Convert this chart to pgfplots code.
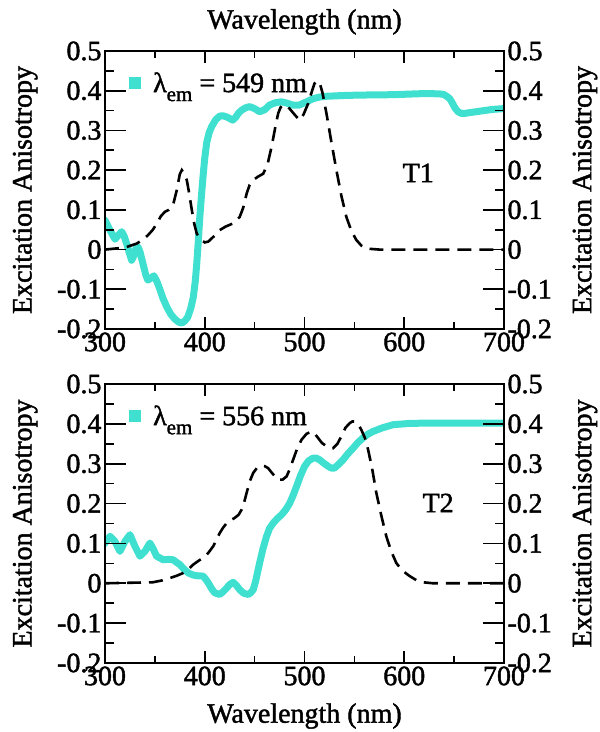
\documentclass[border=0pt]{standalone}
\usepackage{fontspec}
\setmainfont{Liberation Serif}[UprightFeatures={FakeBold=1.5}]
\usepackage{pgfplots}
\pgfplotsset{compat=1.18}
\definecolor{turq}{RGB}{64,224,208}

\pgfplotstableread{
x y
300 0.074
305 0.049
310 0.026
313 0.035
316.7 0.045
319 0.035
321.7 0.015
324 -0.005
326.7 -0.027
329 -0.015
331 0.003
333 0.007
335 -0.005
338 -0.035
341 -0.065
343 -0.077
346 -0.072
349 -0.066
352 -0.08
355 -0.10
358 -0.122
362 -0.145
366 -0.163
370 -0.175
374 -0.183
377 -0.185
380 -0.18
383 -0.17
386 -0.148
388.5 -0.12
390.5 -0.08
392 -0.035
393.5 0.02
395 0.08
397 0.145
398.5 0.19
400 0.23
402 0.27
404.5 0.295
407 0.31
411 0.327
415 0.336
418 0.337
422 0.334
425 0.33
428 0.326
431 0.333
434 0.344
437 0.351
441 0.357
445 0.36
450 0.355
455 0.347
460 0.352
465 0.364
471 0.37
477 0.372
482 0.369
488 0.364
495 0.364
502 0.372
508.7 0.38
515 0.384
522 0.386
540 0.388
555 0.389
589 0.39
622 0.393
635 0.392
639 0.391
642 0.387
645.6 0.38
648 0.37
651 0.356
654 0.347
657 0.343
661 0.343
666 0.345
672 0.347
680 0.35
689 0.353
700 0.355
}\topcyan

\pgfplotstableread{
x y
300 0
320 0.005
331.7 0.015
338 0.025
343 0.036
348 0.05
352 0.066
356 0.084
360 0.095
364 0.1
368.6 0.116
372 0.15
375 0.19
377 0.2
379.5 0.19
382 0.175
384.5 0.14
387 0.1
389.5 0.065
392 0.04
396 0.025
400 0.018
403.5 0.02
409 0.033
415 0.049
421 0.058
428.5 0.066
435 0.082
438.5 0.105
442 0.141
445 0.163
448.6 0.175
453 0.183
458.6 0.191
463 0.215
467 0.259
470.5 0.305
473.6 0.343
476 0.358
478.6 0.364
482 0.362
485 0.355
490 0.34
495 0.326
499 0.34
503.7 0.368
507 0.395
510 0.418
512.5 0.424
515 0.422
518 0.395
522 0.343
527 0.27
532 0.2
537 0.135
542 0.082
547 0.047
552 0.024
557 0.01
562 0.0025
575 0
700 0
}\topdash

\pgfplotstableread{
x y
298 0.097
300 0.101
305 0.118
310 0.105
315 0.08
320 0.105
325 0.122
330 0.093
335 0.068
340 0.08
345 0.101
348 0.088
351.7 0.068
358.4 0.059
364 0.06
368.4 0.059
372 0.052
375 0.047
379 0.036
383.5 0.026
388 0.021
392 0.019
398.5 0.018
401 0.01
403.5 0.001
407 -0.014
410 -0.024
415 -0.028
418 -0.022
422 -0.012
425 -0.003
428.5 0.0025
432 -0.006
435 -0.016
439 -0.025
443.5 -0.028
446 -0.024
448.6 -0.016
451 0.005
453 0.028
455 0.051
458.5 0.088
462 0.118
465 0.138
468.6 0.151
473 0.163
477 0.172
481 0.184
485 0.2
488.5 0.22
492 0.243
496 0.27
500 0.293
504 0.307
508.5 0.314
512 0.314
515 0.31
519 0.302
524 0.293
527 0.289
530 0.289
534 0.298
538.7 0.31
543.5 0.325
548.7 0.339
553.5 0.353
558.8 0.365
563.5 0.374
568.8 0.381
578 0.39
589 0.398
605 0.401
622 0.402
700 0.402
}\botcyan

\pgfplotstableread{
x y
300 0
348 0.0025
357 0.007
365 0.013
372 0.019
378.5 0.026
383.5 0.035
388.5 0.047
393.5 0.056
398.5 0.064
403.5 0.076
408.5 0.093
412 0.11
415 0.126
418.5 0.14
422 0.151
426 0.158
430 0.164
434 0.172
437 0.185
439.5 0.203
442 0.227
445 0.255
448.6 0.277
452.5 0.29
457 0.295
460 0.294
463.5 0.289
468 0.275
473.6 0.26
478 0.26
482 0.268
485 0.285
488.6 0.31
492.5 0.337
497 0.36
502 0.375
507 0.381
510 0.376
513.5 0.365
517.5 0.352
522 0.344
525.5 0.34
528.7 0.339
533 0.35
537 0.369
541 0.39
545.4 0.402
548 0.406
550.4 0.406
554 0.398
557 0.385
560.5 0.365
563.8 0.335
568 0.285
572 0.227
577 0.17
582 0.118
587 0.08
592 0.051
598 0.032
605.5 0.018
612 0.008
619 0.0025
629 0
700 0
}\botdash

\pgfplotsset{
  panel/.style={
    scale only axis, width=399pt, height=278pt,
    xmin=300, xmax=700, ymin=-0.2, ymax=0.5,
    ytick={-0.2,-0.1,0,0.1,0.2,0.3,0.4,0.5},
    yticklabels={-0.2,-0.1,0,0.1,0.2,0.3,0.4,0.5},
    minor y tick num=1,
    tick style={line width=1.6pt, black},
    axis line style={line width=2pt},
  },
  mainax/.style={panel,
    xtick={300,400,500,600,700},
    xticklabels={300,400,500,600,700},
    minor x tick num=1,
    major tick length=12pt, minor tick length=7pt,
    ylabel={Excitation Anisotropy},
    ylabel style={at={(axis description cs:-0.2,0.5)}, anchor=center},
    legend style={at={(axis description cs:0.06,0.885)}, anchor=west,
      draw=none, fill=none, inner sep=0pt, font=\fontsize{28}{32}\selectfont},
    legend cell align=left,
  },
  rightax/.style={panel,
    xtick=\empty,
    major tick length=21pt, minor tick length=9pt,
    yticklabel pos=right,
    ylabel={Excitation Anisotropy},
    ylabel style={at={(axis description cs:1.203,0.5)}, anchor=center},
  },
  cyanline/.style={color=turq, line width=7pt, line join=round, line cap=round,
    legend image code/.code={\fill[turq, draw=none] (0pt,-6pt) rectangle (12pt,6pt); \path[draw=none] (0pt,0pt) -- (22pt,0pt);}},
  dashline/.style={color=black, line width=2.6pt, dash pattern=on 14pt off 8pt},
}

\begin{document}
\begin{tikzpicture}[font=\fontsize{28}{32}\selectfont]
\path[use as bounding box] (0,0) rectangle (600pt,732pt);

% top panel
\begin{axis}[mainax, at={(105pt,403pt)}, anchor=south west,
  title={Wavelength (nm)}, title style={at={(axis description cs:0.5,1.083)}, anchor=center}]
\addplot[cyanline] table {\topcyan};
\addlegendentry{λ\raisebox{-9pt}{\fontsize{21}{21}\selectfont em} = 549 nm}
\addplot[dashline, forget plot] table {\topdash};
\node at (axis cs:614,0.193) {T1};
\end{axis}
\begin{axis}[rightax, at={(105pt,403pt)}, anchor=south west]
\end{axis}

% bottom panel
\begin{axis}[mainax, at={(105pt,69pt)}, anchor=south west, height=279pt,
  xlabel={Wavelength (nm)}, xlabel style={at={(axis description cs:0.5,-0.19)}, anchor=center}]
\addplot[cyanline] table {\botcyan};
\addlegendentry{λ\raisebox{-9pt}{\fontsize{21}{21}\selectfont em} = 556 nm}
\addplot[dashline, forget plot] table {\botdash};
\node at (axis cs:634,0.2015) {T2};
\end{axis}
\begin{axis}[rightax, at={(105pt,69pt)}, anchor=south west, height=279pt]
\end{axis}
\end{tikzpicture}
\end{document}
